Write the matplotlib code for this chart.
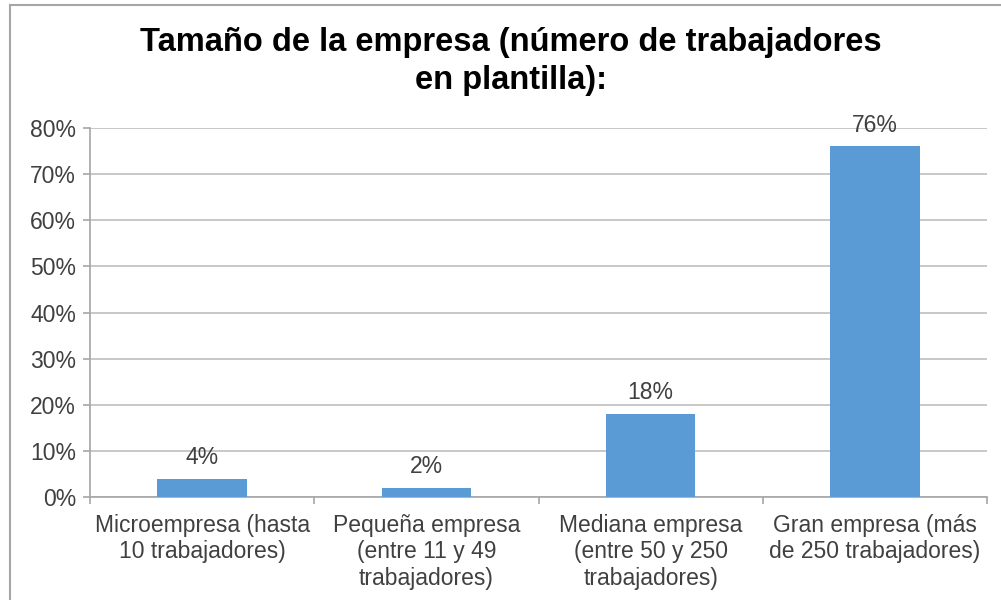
import matplotlib
matplotlib.use("Agg")
import matplotlib.pyplot as plt
from matplotlib.lines import Line2D

categories = ["Microempresa (hasta\n10 trabajadores)",
              "Pequeña empresa\n(entre 11 y 49\ntrabajadores)",
              "Mediana empresa\n(entre 50 y 250\ntrabajadores)",
              "Gran empresa (más\nde 250 trabajadores)"]
values = [4, 2, 18, 76]
yticks = [0, 10, 20, 30, 40, 50, 60, 70, 80]
title_lines = ["Tamaño de la empresa (número de trabajadores", "en plantilla):"]

plt.rcParams['font.family'] = ['Liberation Sans', 'DejaVu Sans']

W, H = 1001, 600
fig = plt.figure(figsize=(W / 100, H / 100), dpi=100)
fig.patch.set_facecolor("white")

ax = fig.add_axes([90 / W, 1 - 497 / H, (987 - 90) / W, (497 - 128) / H])
x = list(range(len(values)))
ax.bar(x, values, width=0.4, color="#5B9BD5", zorder=3)
ax.set_xlim(-0.5, len(values) - 0.5)
ax.set_ylim(0, 80)
ax.set_yticks(yticks)
ax.set_yticklabels([f"{v}%" for v in yticks], fontsize=16.5, color="#404040")
ax.yaxis.grid(True, color="#BFBFBF", linewidth=1.2, zorder=0)
ax.set_xticks(x)
ax.set_xticklabels(categories, fontsize=16.5, color="#404040", linespacing=1.2)
ax.tick_params(axis="x", length=0, pad=12)
ax.tick_params(axis="y", length=5, color="#A6A6A6", width=1.2, pad=5)
# category boundary ticks
ax.set_xticks([i - 0.5 for i in range(len(values) + 1)], minor=True)
ax.tick_params(axis="x", which="minor", length=5, color="#A6A6A6", width=1.2)
for s in ["top", "right"]:
    ax.spines[s].set_visible(False)
ax.spines["left"].set_color("#A6A6A6")
ax.spines["bottom"].set_color("#A6A6A6")
ax.spines["left"].set_linewidth(1.2)
ax.spines["bottom"].set_linewidth(1.2)

for xi, v in zip(x, values):
    ax.annotate(f"{v}%", (xi, v), xytext=(0, 7), textcoords="offset points",
                ha="center", va="bottom", fontsize=16.5, color="#404040")

fig.text(511 / W, 1 - 43 / H, title_lines[0], ha="center", va="center",
         fontsize=23.5, fontweight="bold", color="#000000")
fig.text(511 / W, 1 - 81 / H, title_lines[1], ha="center", va="center",
         fontsize=23.5, fontweight="bold", color="#000000")

# chart border
fig.add_artist(Line2D([10 / W, 1.0], [1 - 5 / H, 1 - 5 / H], transform=fig.transFigure,
                      color="#A6A6A6", linewidth=1.5))
fig.add_artist(Line2D([10 / W, 10 / W], [0, 1 - 5 / H], transform=fig.transFigure,
                      color="#A6A6A6", linewidth=1.5))

fig.savefig("out.png", dpi=100, facecolor="white")
